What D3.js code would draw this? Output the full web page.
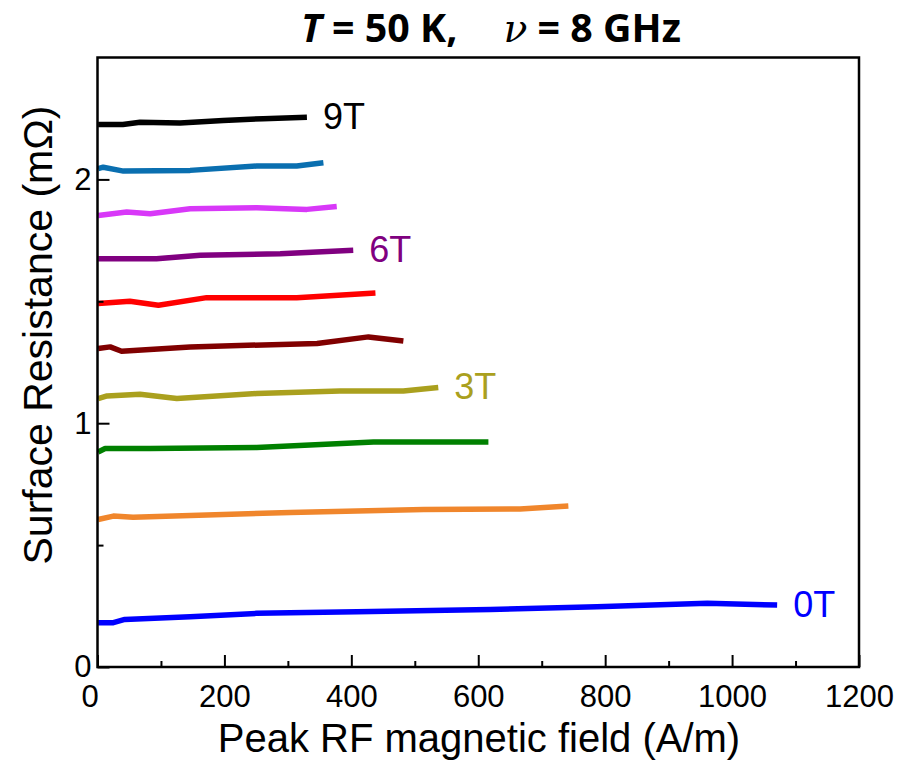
<!DOCTYPE html>
<html>
<head>
<meta charset="utf-8">
<script src="https://cdn.jsdelivr.net/npm/d3@7"></script>
<style>
  html, body { margin: 0; padding: 0; background: #fff; }
  svg { display: block; }
</style>
</head>
<body>
<svg id="chart" width="897" height="764"></svg>
<script>
// ---- data ----
const seriesNames = ["0T", "1T", "2T", "3T", "4T", "5T", "6T", "7T", "8T", "9T"];
const seriesColors = ["#0000ff", "#f0862c", "#008000", "#aaa01e", "#800000", "#ff0000", "#800080", "#d838f8", "#0a6fb0", "#000000"];
const labelledSeries = ["0T", "3T", "6T", "9T"];

const field0T = [1, 25, 43, 146, 251, 409, 619, 787, 961, 1071];
const rs0T    = [0.182, 0.182, 0.195, 0.206, 0.220, 0.227, 0.236, 0.247, 0.261, 0.254];
const field1T = [1, 25, 56, 304, 514, 666, 742];
const rs1T    = [0.605, 0.619, 0.614, 0.634, 0.646, 0.648, 0.660];
const field2T = [1, 12, 83, 251, 435, 616];
const rs2T    = [0.882, 0.896, 0.896, 0.900, 0.923, 0.923];
const field3T = [1, 15, 67, 125, 251, 382, 482, 537];
const rs3T    = [1.101, 1.112, 1.119, 1.101, 1.122, 1.132, 1.132, 1.146];
const field4T = [1, 20, 38, 146, 346, 427, 482];
const rs4T    = [1.306, 1.313, 1.295, 1.313, 1.327, 1.354, 1.337];
const field5T = [1, 51, 96, 172, 314, 438];
const rs5T    = [1.491, 1.500, 1.484, 1.515, 1.515, 1.534];
const field6T = [1, 93, 162, 288, 403];
const rs6T    = [1.675, 1.675, 1.689, 1.695, 1.709];
const field7T = [1, 46, 83, 146, 251, 330, 377];
const rs7T    = [1.852, 1.866, 1.859, 1.880, 1.884, 1.877, 1.889];
const field8T = [1, 9, 41, 146, 251, 314, 356];
const rs8T    = [2.044, 2.050, 2.034, 2.037, 2.055, 2.055, 2.068];
const field9T = [1, 40, 67, 130, 198, 261, 330];
const rs9T    = [2.225, 2.225, 2.234, 2.231, 2.242, 2.249, 2.255];

const fields = [field0T, field1T, field2T, field3T, field4T, field5T, field6T, field7T, field8T, field9T];
const values = [rs0T, rs1T, rs2T, rs3T, rs4T, rs5T, rs6T, rs7T, rs8T, rs9T];

const xMajorTicks = [0, 200, 400, 600, 800, 1000, 1200];
const xMinorTicks = [100, 300, 500, 700, 900, 1100];
const yMajorTicks = [0, 1, 2];
const yMinorTicks = [0.5, 1.5];

const titleSym1 = "T", titleRest1 = " = 50 K,";
const titleSym2 = "ν", titleRest2 = " = 8 GHz";
const xLabel = "Peak RF magnetic field (A/m)";
const yLabel = "Surface Resistance (mΩ)";

// ---- layout ----
const svg = d3.select("#chart");
const L = 97.5, R = 859, T = 57.5, B = 667;

const x = d3.scaleLinear().domain([0, 1200]).range([L, R]);
const y = d3.scaleLinear().domain([0, 2.5]).range([B, T]);

const font = "'Liberation Sans', Arial, sans-serif";

// lines
const line = d3.line().x(d => x(d[0])).y(d => y(d[1]));
const series = seriesNames.map((n, i) => ({
  name: n, color: seriesColors[i],
  pts: fields[i].map((f, j) => [f, values[i][j]])
}));

svg.append("g").selectAll("path").data(series).join("path")
  .attr("d", d => line(d.pts))
  .attr("fill", "none")
  .attr("stroke", d => d.color)
  .attr("stroke-width", 5.5)
  .attr("stroke-linejoin", "round")
  .attr("stroke-linecap", "butt");

// series labels
svg.append("g").selectAll("text")
  .data(series.filter(s => labelledSeries.includes(s.name)))
  .join("text")
  .attr("x", d => x(d.pts[d.pts.length - 1][0]) + 16)
  .attr("y", d => y(d.pts[d.pts.length - 1][1]) - 1)
  .attr("dy", "0.35em")
  .attr("fill", d => d.color)
  .attr("font-family", font)
  .attr("font-size", 36)
  .text(d => d.name);

// axes (ticks inside)
const xAxis = d3.axisBottom(x).tickValues(xMajorTicks).tickSizeInner(-12).tickSizeOuter(0).tickPadding(18).tickFormat(d3.format("d"));
const gx = svg.append("g").attr("transform", `translate(0,${B})`).call(xAxis);
gx.select(".domain").remove();
gx.selectAll(".tick line").attr("stroke", "#000").attr("stroke-width", 2);
gx.selectAll(".tick text").attr("font-family", font).attr("font-size", 31).attr("fill", "#000");
gx.selectAll(".tick").filter(d => d === 0).select("text").attr("dx", -8);

const xMinor = d3.axisBottom(x).tickValues(xMinorTicks).tickSizeInner(-6).tickSizeOuter(0).tickFormat("");
const gxm = svg.append("g").attr("transform", `translate(0,${B})`).call(xMinor);
gxm.select(".domain").remove();
gxm.selectAll(".tick line").attr("stroke", "#000").attr("stroke-width", 2);

const yAxis = d3.axisLeft(y).tickValues(yMajorTicks).tickSizeInner(-12).tickSizeOuter(0).tickPadding(6).tickFormat(d3.format("d"));
const gy = svg.append("g").attr("transform", `translate(${L},0)`).call(yAxis);
gy.select(".domain").remove();
gy.selectAll(".tick line").attr("stroke", "#000").attr("stroke-width", 2);
gy.selectAll(".tick text").attr("font-family", font).attr("font-size", 31).attr("fill", "#000");

const yMinor = d3.axisLeft(y).tickValues(yMinorTicks).tickSizeInner(-6).tickSizeOuter(0).tickFormat("");
const gym = svg.append("g").attr("transform", `translate(${L},0)`).call(yMinor);
gym.select(".domain").remove();
gym.selectAll(".tick line").attr("stroke", "#000").attr("stroke-width", 2);

// frame
svg.append("rect")
  .attr("x", L).attr("y", T).attr("width", R - L).attr("height", B - T)
  .attr("fill", "none").attr("stroke", "#000").attr("stroke-width", 2.5);

// axis titles
svg.append("text")
  .attr("x", 479).attr("y", 752)
  .attr("text-anchor", "middle")
  .attr("font-family", font).attr("font-size", 40)
  .text(xLabel);

svg.append("text")
  .attr("transform", `translate(52,335) rotate(-90)`)
  .attr("text-anchor", "middle")
  .attr("font-family", font).attr("font-size", 41)
  .text(yLabel);

// title: fitted so that it spans about x = 300 .. 683 with a wide gap before ν
const gap = 46, titleWidth = 380;
const title = svg.append("text")
  .attr("x", 301).attr("y", 42)
  .attr("font-family", "'Open Sans', 'Noto Sans', sans-serif")
  .attr("font-weight", "bold")
  .attr("font-size", 28);
title.append("tspan").attr("font-style", "italic").text(titleSym1);
title.append("tspan").text(titleRest1);
const nu = title.append("tspan").attr("font-style", "italic")
  .attr("font-family", "'DejaVu Serif', serif").attr("font-weight", "normal").text(titleSym2);
title.append("tspan").text(titleRest2);
const tl = title.node().getComputedTextLength();
if (tl > 0) title.attr("font-size", Math.min(40, 28 * (titleWidth - gap) / tl));
nu.attr("dx", gap);
</script>
</body>
</html>
